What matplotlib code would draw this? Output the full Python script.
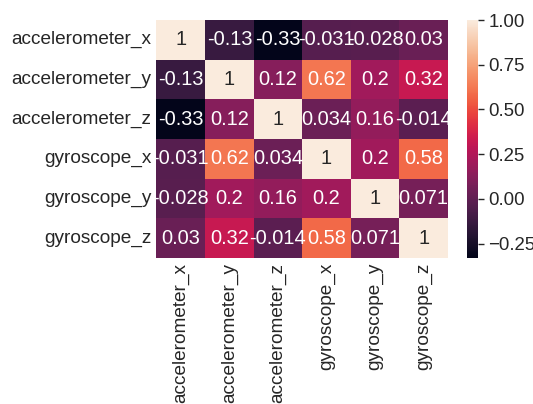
import numpy as np
import pandas as pd
import matplotlib
matplotlib.use("Agg")
import matplotlib.pyplot as plt
import seaborn as sns

# correlation matrix
sensors = ["accelerometer_x", "accelerometer_y", "accelerometer_z",
           "gyroscope_x", "gyroscope_y", "gyroscope_z"]
acc_x = [1, -0.13, -0.33, -0.031, -0.028, 0.03]
acc_y = [-0.13, 1, 0.12, 0.62, 0.2, 0.32]
acc_z = [-0.33, 0.12, 1, 0.034, 0.16, -0.014]
gyr_x = [-0.031, 0.62, 0.034, 1, 0.2, 0.58]
gyr_y = [-0.028, 0.2, 0.16, 0.2, 1, 0.071]
gyr_z = [0.03, 0.32, -0.014, 0.58, 0.071, 1]

corr = pd.DataFrame([acc_x, acc_y, acc_z, gyr_x, gyr_y, gyr_z],
                    index=sensors, columns=sensors)

sns.set_theme(font_scale=1.2)
plt.rcParams["font.family"] = ["Liberation Sans", "DejaVu Sans"]

fig = plt.figure(figsize=(5.33, 4.04), dpi=100)
ax = fig.add_axes([0.2936, 0.3614, 0.547, 0.589])
cax = fig.add_axes([0.876, 0.3614, 0.0206, 0.589])

sns.heatmap(corr, annot=True, ax=ax, cbar_ax=cax)
ax.tick_params(length=0, labelsize=13.7)
cax.tick_params(length=4, width=1, color=".15", labelsize=13.4)
cax.yaxis.set_ticks([-0.25, 0, 0.25, 0.5, 0.75, 1.0])

fig.savefig("out.png", dpi=100)
